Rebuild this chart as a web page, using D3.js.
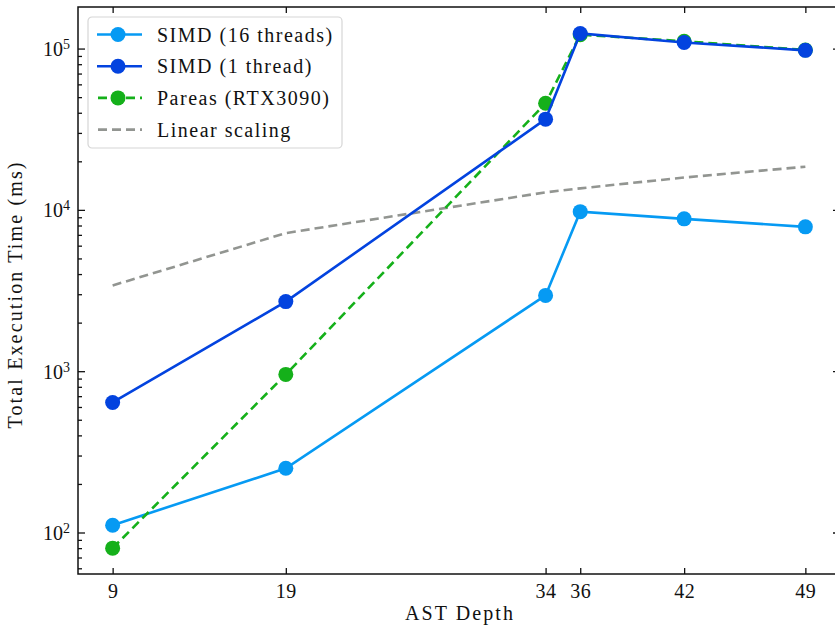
<!DOCTYPE html>
<html>
<head>
<meta charset="utf-8">
<script src="https://cdn.jsdelivr.net/npm/d3@7"></script>
<style>
  body { margin: 0; background: #fff; }
  svg text { font-family: "Liberation Serif", "DejaVu Serif", serif; fill: #111; }
</style>
</head>
<body>
<div id="chart"></div>
<script>
// AST depth on x, total time (ms) on y (log)
var depths = [9, 19, 34, 36, 42, 49];
var simd16 = [111, 250, 2950, 9750, 8800, 7850];
var simd1 = [640, 2700, 36500, 124000, 109000, 97500];
var pareas = [80, 955, 45800, 122000, 111000, 98000];
var linearScaling = [3400, 7180, 12850, 13600, 15870, 18520];

var seriesNames = ["SIMD (16 threads)", "SIMD (1 thread)", "Pareas (RTX3090)", "Linear scaling"];
var yTickVals = [1e2, 1e3, 1e4, 1e5];
var yTickExp = ["2", "3", "4", "5"];

var W = 835, H = 631;
var margin = {top: 7, right: -5, bottom: 57, left: 78};
var width = W - margin.left - margin.right,
    height = H - margin.top - margin.bottom;

var svg = d3.select("#chart").append("svg")
    .attr("width", W).attr("height", H)
  .append("g")
    .attr("transform", "translate(" + margin.left + "," + margin.top + ")");

var x = d3.scaleLinear().domain([7, 51]).range([0, width]);
var y = d3.scaleLog().domain([55.3, 1.81e5]).range([height, 0]);

// minor ticks for the log axis
var minor = [];
for (var e = 1; e <= 5; e++) {
  for (var m = 2; m <= 9; m++) {
    var v = m * Math.pow(10, e);
    if (v > y.domain()[0] && v < y.domain()[1]) minor.push(v);
  }
}

// axes: ticks pointing in, on all four sides
svg.append("g")
    .attr("transform", "translate(0," + height + ")")
    .call(d3.axisBottom(x).tickValues(depths).tickSize(-6).tickPadding(10).tickFormat(d3.format("d")))
    .call(function(g) { g.select(".domain").remove(); })
    .selectAll("text").style("font-size", "20px").style("letter-spacing", "0.5px");

svg.append("g")
    .call(d3.axisTop(x).tickValues(depths).tickSize(-6).tickFormat(""))
    .call(function(g) { g.select(".domain").remove(); });

var yl = svg.append("g")
    .call(d3.axisLeft(y).tickValues(yTickVals).tickSize(-7).tickPadding(8).tickFormat(""))
    .call(function(g) { g.select(".domain").remove(); });
yl.selectAll(".tick").each(function(d, i) {
  var t = d3.select(this).append("text")
      .attr("x", -8).attr("dy", "0.35em")
      .attr("text-anchor", "end")
      .style("font-size", "20px");
  t.append("tspan").text("10");
  t.append("tspan").attr("dy", "-0.5em").style("font-size", "14px").text(yTickExp[i]);
});
svg.append("g")
    .call(d3.axisLeft(y).tickValues(minor).tickSize(-4).tickFormat(""))
    .call(function(g) { g.select(".domain").remove(); });

svg.append("g")
    .attr("transform", "translate(" + width + ",0)")
    .call(d3.axisRight(y).tickValues(yTickVals).tickSize(-7).tickFormat(""))
    .call(function(g) { g.select(".domain").remove(); });
svg.append("g")
    .attr("transform", "translate(" + width + ",0)")
    .call(d3.axisRight(y).tickValues(minor).tickSize(-4).tickFormat(""))
    .call(function(g) { g.select(".domain").remove(); });

svg.selectAll(".tick line").attr("stroke", "#111").attr("stroke-width", 1.3);

// frame
svg.append("rect")
    .attr("width", width).attr("height", height)
    .attr("fill", "none").attr("stroke", "#111").attr("stroke-width", 1.5);

// labels
svg.append("text")
    .attr("x", 381).attr("y", height + 46)
    .attr("text-anchor", "middle").style("font-size", "20px")
    .attr("textLength", 108).attr("lengthAdjust", "spacing")
    .text("AST Depth");
svg.append("text")
    .attr("transform", "translate(-56," + (height / 2 + 5) + ") rotate(-90)")
    .attr("text-anchor", "middle").style("font-size", "20px")
    .attr("textLength", 266).attr("lengthAdjust", "spacing")
    .text("Total Execution Time (ms)");

var series = [
  {name: seriesNames[3], vals: linearScaling, color: "#929591", dash: "9,5", marker: false},
  {name: seriesNames[0], vals: simd16, color: "#069af3", dash: null, marker: true},
  {name: seriesNames[2], vals: pareas, color: "#15b01a", dash: "9,5", marker: true},
  {name: seriesNames[1], vals: simd1, color: "#0343df", dash: null, marker: true}
];

var line = d3.line()
    .x(function(d) { return x(d[0]); })
    .y(function(d) { return y(d[1]); });

series.forEach(function(s) {
  var pts = depths.map(function(d, i) { return [d, s.vals[i]]; });
  svg.append("path")
      .datum(pts)
      .attr("d", line)
      .attr("fill", "none")
      .attr("stroke", s.color)
      .attr("stroke-width", 2.6)
      .attr("stroke-dasharray", s.dash);
  if (s.marker) {
    svg.append("g").selectAll("circle")
      .data(pts).enter().append("circle")
        .attr("cx", function(d) { return x(d[0]); })
        .attr("cy", function(d) { return y(d[1]); })
        .attr("r", 7.5)
        .style("fill", s.color);
  }
});

// legend
var leg = svg.append("g").attr("transform", "translate(10,10)");
leg.append("rect")
    .attr("width", 254).attr("height", 131).attr("rx", 4)
    .attr("fill", "#fff").attr("fill-opacity", 0.85)
    .attr("stroke", "#d6d6d6").attr("stroke-width", 1.2);

var legItems = [
  {name: seriesNames[0], color: "#069af3", dash: null, marker: true},
  {name: seriesNames[1], color: "#0343df", dash: null, marker: true},
  {name: seriesNames[2], color: "#15b01a", dash: "9,5", marker: true},
  {name: seriesNames[3], color: "#929591", dash: "9,5", marker: false}
];
legItems.forEach(function(it, i) {
  var ly = 17.5 + i * 31.7;
  leg.append("line")
      .attr("x1", 9).attr("x2", 54).attr("y1", ly).attr("y2", ly)
      .attr("stroke", it.color).attr("stroke-width", 2.6)
      .attr("stroke-dasharray", it.dash ? "9,5" : null)
      .attr("stroke-dashoffset", it.dash ? -1 : null);
  if (it.marker) {
    leg.append("circle").attr("cx", 30).attr("cy", ly).attr("r", 7.5).style("fill", it.color);
  }
  leg.append("text")
      .attr("x", 69).attr("y", ly).attr("dy", "0.35em")
      .style("font-size", "20px").style("letter-spacing", "1.5px")
      .text(it.name);
});
</script>
</body>
</html>
